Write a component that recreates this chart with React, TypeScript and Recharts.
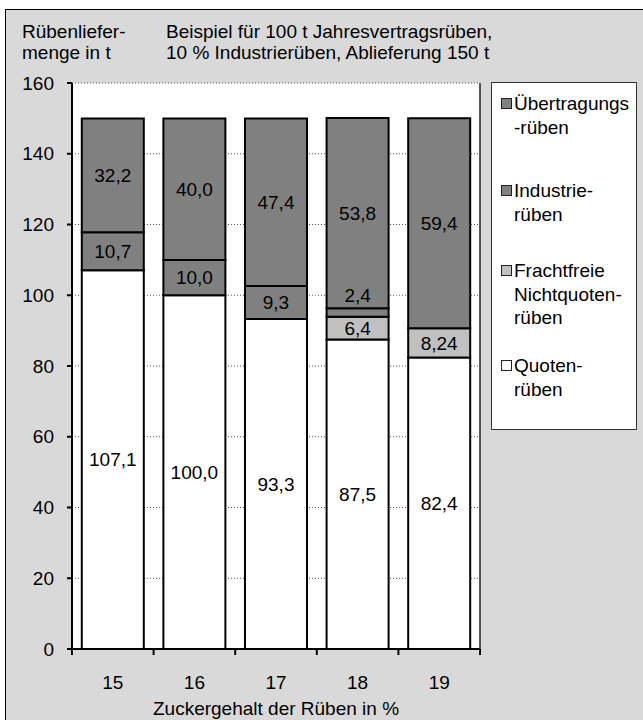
import React from "react";
import { Bar, BarChart, CartesianGrid, LabelList, XAxis, YAxis } from "recharts";

const categories = ["15", "16", "17", "18", "19"];
const quotenRueben = [107.1, 100.0, 93.3, 87.5, 82.4];
const frachtfreieRueben = [null, null, null, 6.4, 8.24];
const industrieRueben = [10.7, 10.0, 9.3, 2.4, null];
const uebertragungsRueben = [32.2, 40.0, 47.4, 53.8, 59.4];
const yTicks = [0, 20, 40, 60, 80, 100, 120, 140, 160];

const FONT = '"Liberation Sans", Arial, sans-serif';

const series = [
  { key: "quoten", label: ["Quoten-", "rüben"], fill: "#ffffff" },
  { key: "frachtfrei", label: ["Frachtfreie", "Nichtquoten-", "rüben"], fill: "#c0c0c0" },
  { key: "industrie", label: ["Industrie-", "rüben"], fill: "#808080" },
  { key: "uebertragung", label: ["Übertragungs", "-rüben"], fill: "#808080" },
];

const data = categories.map((c, i) => ({
  zucker: c,
  quoten: quotenRueben[i],
  frachtfrei: frachtfreieRueben[i],
  industrie: industrieRueben[i],
  uebertragung: uebertragungsRueben[i],
}));

function fmt(v: any) {
  if (v == null || v === 0) return "";
  const n = Number(v);
  const oneDecimal = Math.abs(n * 10 - Math.round(n * 10)) < 1e-6;
  return (oneDecimal ? n.toFixed(1) : n.toFixed(2)).replace(".", ",");
}

// value label: centred in the segment, above it when the segment is too thin
function SegmentLabel(props: any) {
  const { x, y, width, height, value } = props;
  const text = fmt(value);
  if (!text) return null;
  const h = Math.abs(height);
  const top = Math.min(y, y + height);
  const cy = h < 18 ? top - 13 : top + h / 2;
  return (
    <text x={x + width / 2} y={cy} dy="0.35em" textAnchor="middle" fontSize={19} fontFamily={FONT} fill="#000">
      {text}
    </text>
  );
}

function XTick(props: any) {
  const { x, y, payload, index } = props;
  const half = payload?.offset ?? 40.8;
  return (
    <g>
      <line x1={x + half} x2={x + half} y1={y} y2={y + 6} stroke="#000" strokeWidth={2} />
      {index === 0 && <line x1={x - half} x2={x - half} y1={y} y2={y + 6} stroke="#000" strokeWidth={2} />}
      <text x={x} y={y + 40} textAnchor="middle" fontSize={19} fontFamily={FONT} fill="#000">
        {payload.value}
      </text>
    </g>
  );
}

// legend items top to bottom, offsets inside the box
const legendTops = [9, 96, 176, 271];

export default function App() {
  const legendItems = [...series].reverse();
  return (
    <div style={{ position: "absolute", left: 0, top: 0, width: 643, height: 720, background: "#fff", overflow: "hidden", fontFamily: FONT }}>
      <div
        style={{
          position: "absolute",
          left: 5,
          top: 9,
          width: 660,
          height: 740,
          background: "#d9d9d9",
          borderTop: "1.5px solid #000",
          borderLeft: "1.5px solid #000",
        }}
      />
      <div style={{ position: "absolute", left: 22, top: 21, fontSize: 19, lineHeight: "21px", color: "#000" }}>
        Rübenliefer-
        <br />
        menge in t
      </div>
      <div style={{ position: "absolute", left: 166, top: 21, fontSize: 19, lineHeight: "21px", color: "#000" }}>
        Beispiel für 100 t Jahresvertragsrüben,
        <br />
        10 % Industrierüben, Ablieferung 150 t
      </div>
      <div style={{ position: "absolute", left: 0, top: 0 }}>
        <BarChart width={643} height={720} data={data} margin={{ top: 83, right: 163, bottom: 1, left: 0 }} barCategoryGap="12%">
          <CartesianGrid fill="#fff" vertical={false} stroke="#555" strokeDasharray="1 2" />
          <CartesianGrid
            horizontal={false}
            stroke="#222"
            strokeWidth={1.5}
            verticalCoordinatesGenerator={({ offset }: any) => [offset.left + offset.width]}
          />
          <XAxis
            dataKey="zucker"
            height={70}
            interval={0}
            tickLine={false}
            tickSize={0}
            tickMargin={0}
            axisLine={{ stroke: "#000", strokeWidth: 2 }}
            tick={<XTick />}
            label={{
              value: "Zuckergehalt der Rüben in %",
              position: "insideBottom",
              offset: 4,
              fill: "#000",
              fontSize: 19,
              fontFamily: FONT,
            }}
          />
          <YAxis
            width={72}
            domain={[0, 160]}
            ticks={yTicks}
            interval={0}
            tickSize={5}
            tickMargin={13}
            tickLine={{ stroke: "#000", strokeWidth: 2 }}
            axisLine={{ stroke: "#000", strokeWidth: 2 }}
            tick={{ fill: "#000", fontSize: 19, fontFamily: FONT }}
          />
          {series.map((s) => (
            <Bar key={s.key} dataKey={s.key} stackId="a" fill={s.fill} stroke="#000" strokeWidth={2} isAnimationActive={false}>
              <LabelList dataKey={s.key} content={<SegmentLabel />} />
            </Bar>
          ))}
        </BarChart>
      </div>
      <div
        style={{
          position: "absolute",
          left: 491,
          top: 82,
          width: 144,
          height: 346,
          background: "#fff",
          border: "1.5px solid #333",
        }}
      >
        {legendItems.map((s, i) => (
          <div key={s.key} style={{ position: "absolute", left: 9, top: legendTops[i], display: "flex", alignItems: "flex-start" }}>
            <div
              style={{
                width: 9,
                height: 9,
                marginTop: 6,
                background: s.fill,
                border: "1.5px solid #222",
                marginRight: 2,
              }}
            />
            <div style={{ fontSize: 19, lineHeight: "23.5px", color: "#000" }}>
              {s.label.map((l, j) => (
                <div key={j}>{l}</div>
              ))}
            </div>
          </div>
        ))}
      </div>
    </div>
  );
}
